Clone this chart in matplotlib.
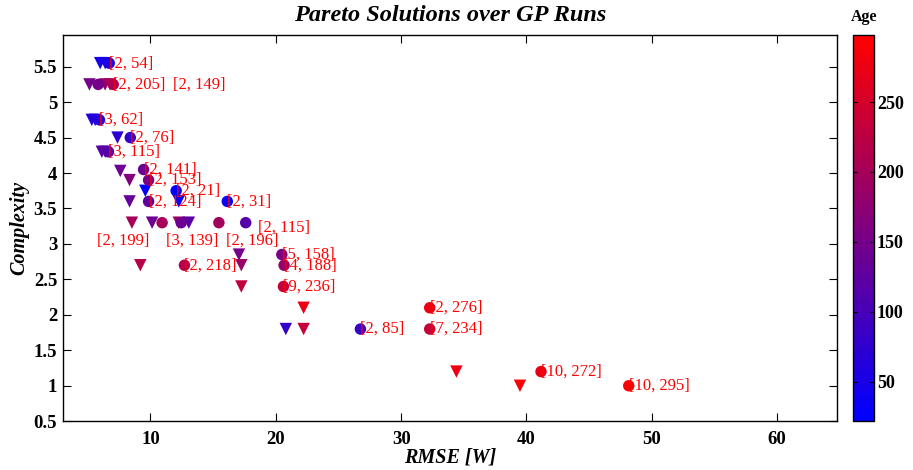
import matplotlib
matplotlib.use("Agg")
import matplotlib.pyplot as plt
from matplotlib.colors import LinearSegmentedColormap, Normalize
import numpy as np

# ---- data: labelled Pareto solutions (circles) ----
circ_rmse = [6.71, 5.83, 7.03, 5.93, 8.39, 6.65, 9.45, 9.85, 12.05, 9.85, 16.13,
             10.93, 12.45, 15.46, 17.60, 12.71, 20.48, 20.66, 20.61, 26.75,
             32.28, 32.28, 41.16, 48.16]
circ_cplx = [5.55, 5.25, 5.25, 4.75, 4.50, 4.30, 4.05, 3.90, 3.75, 3.60, 3.60,
             3.30, 3.30, 3.30, 3.30, 2.70, 2.85, 2.70, 2.40, 1.80,
             2.10, 1.80, 1.20, 1.00]
circ_n = [2, 2, 2, 3, 2, 3, 2, 2, 2, 2, 2,
          2, 3, 2, 2, 2, 5, 4, 9, 2,
          2, 7, 10, 10]
circ_age = [54, 149, 205, 62, 76, 115, 141, 153, 21, 124, 31,
            199, 139, 196, 115, 218, 158, 188, 236, 85,
            276, 234, 272, 295]
# label anchor positions (data coordinates)
lab_rmse = [6.71, 11.83, 7.03, 5.93, 8.39, 6.65, 9.45, 9.85, 12.05, 9.85, 16.13,
            5.75, 11.20, 16.00, 18.56, 12.71, 20.48, 20.66, 20.61, 26.75,
            32.28, 32.28, 41.16, 48.16]
lab_cplx = [5.55, 5.25, 5.25, 4.75, 4.50, 4.30, 4.05, 3.90, 3.75, 3.60, 3.60,
            3.05, 3.05, 3.05, 3.23, 2.70, 2.85, 2.70, 2.40, 1.80,
            2.10, 1.80, 1.20, 1.00]

# ---- data: other solutions (triangles) ----
tri_rmse = [5.99, 6.39, 5.13, 6.38, 6.78, 5.32, 5.59, 7.37, 6.12, 6.39,
            7.59, 8.33, 9.59, 8.33, 12.26,
            8.52, 10.13, 12.26, 13.06,
            17.06, 17.25, 9.19, 17.25, 22.22, 20.80, 22.22, 34.41, 39.48]
tri_cplx = [5.55, 5.55, 5.25, 5.25, 5.25, 4.75, 4.75, 4.50, 4.30, 4.30,
            4.03, 3.90, 3.75, 3.60, 3.60,
            3.30, 3.30, 3.30, 3.30,
            2.85, 2.70, 2.70, 2.40, 2.10, 1.80, 1.80, 1.20, 1.00]
tri_age = [45, 50, 150, 180, 205, 60, 62, 70, 120, 125,
           140, 160, 30, 130, 25,
           200, 140, 195, 120,
           150, 190, 220, 230, 275, 80, 235, 280, 290]

age_min, age_max = 22, 298

plt.rcParams['font.family'] = ['Liberation Serif', 'DejaVu Serif']

cmap = LinearSegmentedColormap.from_list('br', [(0, 0, 1), (1, 0, 0)], N=64)
norm = Normalize(vmin=age_min, vmax=age_max)

fig = plt.figure(figsize=(9.13, 4.70), dpi=100)
ax = fig.add_axes([0.0687, 0.1038, 0.9171 - 0.0687, 0.926 - 0.1038])

ax.scatter(tri_rmse, tri_cplx, c=tri_age, cmap=cmap, norm=norm, marker='v',
           s=80, linewidths=0, zorder=3)
ax.scatter(circ_rmse, circ_cplx, c=circ_age, cmap=cmap, norm=norm, marker='o',
           s=68, linewidths=0, zorder=3)

for x, y, n, a in zip(lab_rmse, lab_cplx, circ_n, circ_age):
    ax.text(x, y, f"[{n}, {a}]", color='red', fontsize=12, ha='left',
            va='center', zorder=4)

ax.set_xlim(3, 64.8)
ax.set_ylim(0.5, 5.95)
ax.set_xticks([10, 20, 30, 40, 50, 60])
ax.set_yticks([0.5, 1, 1.5, 2, 2.5, 3, 3.5, 4, 4.5, 5, 5.5])
ax.set_yticklabels(['0.5', '1', '1.5', '2', '2.5', '3', '3.5', '4', '4.5', '5', '5.5'])
ax.tick_params(direction='in', length=5.5, width=0.8, top=True, right=True,
               labelsize=13.5)
ax.tick_params(axis='x', pad=7)
ax.tick_params(axis='y', pad=4)
for lbl in ax.get_xticklabels() + ax.get_yticklabels():
    lbl.set_fontweight('bold')
for sp in ax.spines.values():
    sp.set_linewidth(1.0)

ax.set_title('Pareto Solutions over GP Runs', fontsize=17.5, fontweight='bold',
             fontstyle='italic', pad=10)
ax.set_xlabel('RMSE [W]', fontsize=14.5, fontstyle='italic', fontweight='bold',
              labelpad=0)
ax.set_ylabel('Complexity', fontsize=14.5, fontstyle='italic', fontweight='bold',
              labelpad=3)

cax = fig.add_axes([0.9346, 0.1049, 0.9573 - 0.9346, 0.9255 - 0.1049])
sm = matplotlib.cm.ScalarMappable(cmap=cmap, norm=norm)
cb = fig.colorbar(sm, cax=cax)
cb.set_ticks([50, 100, 150, 200, 250])
cb.ax.tick_params(direction='in', length=3, width=0.8, left=True, right=True,
                  labelsize=13, pad=2)
for lbl in cb.ax.get_yticklabels():
    lbl.set_fontweight('bold')
cb.outline.set_linewidth(1.0)
cb.ax.set_title('Age', fontsize=11.5, fontweight='bold', pad=10)

fig.savefig('out.png', dpi=100)
